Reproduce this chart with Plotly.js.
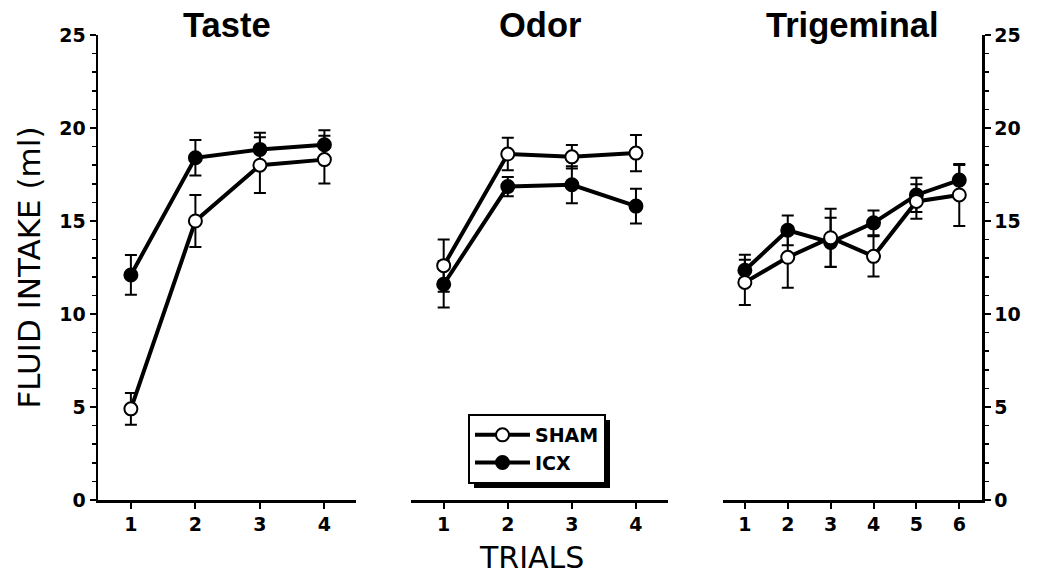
<!DOCTYPE html>
<html>
<head>
<meta charset="utf-8">
<script src="https://cdn.plot.ly/plotly-3.0.1.min.js"></script>
<style>html,body{margin:0;padding:0;background:#fff;}#chart{width:1050px;height:581px;}</style>
</head>
<body>
<div id="chart"></div>
<script>
// ---- data ----
const panelTitles = ["Taste", "Odor", "Trigeminal"];
const seriesNames = ["SHAM", "ICX"];

const tasteTrials = [1, 2, 3, 4];
const tasteSham = [4.9, 15.0, 18.0, 18.3];
const tasteShamErr = [0.85, 1.4, 1.5, 1.28];
const tasteIcx = [12.1, 18.4, 18.85, 19.1];
const tasteIcxErr = [1.07, 0.95, 0.9, 0.78];

const odorTrials = [1, 2, 3, 4];
const odorSham = [12.6, 18.6, 18.45, 18.65];
const odorShamErr = [1.4, 0.87, 0.63, 0.97];
const odorIcx = [11.6, 16.85, 16.95, 15.8];
const odorIcxErr = [1.25, 0.52, 1.0, 0.93];

const trigTrials = [1, 2, 3, 4, 5, 6];
const trigSham = [11.7, 13.05, 14.1, 13.1, 16.05, 16.4];
const trigShamErr = [1.22, 1.64, 1.56, 1.08, 0.93, 1.67];
const trigIcx = [12.35, 14.5, 13.85, 14.9, 16.4, 17.2];
const trigIcxErr = [0.84, 0.8, 1.32, 0.66, 0.92, 0.81];

const yTickVals = [0, 5, 10, 15, 20, 25];

// ---- styling ----
const FONT = "Liberation Sans, Arial, Helvetica, sans-serif";
const WIDE = "DejaVu Sans, Liberation Sans, Arial, sans-serif";
const W = 1050, H = 581, T = 35, B = 81;
const plotH = H - T - B;
function px2x(p) { return p / W; }
function px2y(p) { return (H - B - p) / plotH; }

function makeTrace(x, y, err, name, open, xa, ya, showlegend) {
  return {
    type: "scatter", mode: "lines+markers",
    x: x, y: y, name: name, xaxis: xa, yaxis: ya,
    showlegend: showlegend, legendgroup: name,
    legendrank: open ? 1 : 2,
    line: {color: "black", width: 4},
    marker: {symbol: "circle", size: 13, color: open ? "white" : "black",
             line: {color: "black", width: 2}},
    error_y: {type: "data", array: err, visible: true, color: "black",
              thickness: 2, width: 6},
    cliponaxis: false
  };
}

const data = [
  makeTrace(tasteTrials, tasteIcx, tasteIcxErr, seriesNames[1], false, "x", "y", true),
  makeTrace(tasteTrials, tasteSham, tasteShamErr, seriesNames[0], true, "x", "y", true),
  makeTrace(odorTrials, odorIcx, odorIcxErr, seriesNames[1], false, "x2", "y2", false),
  makeTrace(odorTrials, odorSham, odorShamErr, seriesNames[0], true, "x2", "y2", false),
  makeTrace(trigTrials, trigIcx, trigIcxErr, seriesNames[1], false, "x3", "y3", false),
  makeTrace(trigTrials, trigSham, trigShamErr, seriesNames[0], true, "x3", "y3", false)
];

const doms = [[98, 356], [411, 668], [723, 982]];
const ranges = [[0.49, 4.49], [0.49, 4.5], [0.49, 6.53]];
const tickSets = [tasteTrials, odorTrials, trigTrials];

const tickFont = {family: WIDE, size: 19, color: "black", weight: "bold"};

function xAxis(i) {
  return {
    domain: [px2x(doms[i][0]), px2x(doms[i][1])],
    range: ranges[i], anchor: i === 0 ? "y" : "y" + (i + 1),
    showline: true, linecolor: "black", linewidth: 2.5,
    ticks: "outside", ticklen: 6, tickwidth: 2, tickcolor: "black",
    tickvals: tickSets[i], ticktext: tickSets[i].map(String),
    tickfont: tickFont, showgrid: false, zeroline: false, fixedrange: true
  };
}
function xAxisInner(i) {
  const a = xAxis(i);
  a.ticks = "inside"; a.showticklabels = false; a.showline = false;
  a.overlaying = i === 0 ? "x" : "x" + (i + 1);
  return a;
}
function yAxis(i, show, side) {
  const a = {
    domain: [0, 1], range: [0, 25], anchor: i === 0 ? "x" : "x" + (i + 1),
    showgrid: false, zeroline: false, fixedrange: true
  };
  if (show) {
    Object.assign(a, {
      side: side, showline: true, linecolor: "black", linewidth: 2.5,
      ticks: "outside", ticklen: 6, tickwidth: 2, tickcolor: "black",
      tickvals: yTickVals, tickfont: tickFont,
      minor: {dtick: 1, tick0: 0, ticks: "outside", ticklen: 4, tickwidth: 1.5, tickcolor: "black"}
    });
  } else {
    Object.assign(a, {visible: false});
  }
  return a;
}

const layout = {
  width: W, height: H,
  margin: {l: 0, r: 0, t: T, b: B, pad: 0},
  paper_bgcolor: "white", plot_bgcolor: "rgba(0,0,0,0)",
  font: {family: FONT, color: "black"},
  showlegend: true,
  legend: {
    x: px2x(468), y: px2y(414), xanchor: "left", yanchor: "top",
    bgcolor: "white", bordercolor: "black", borderwidth: 2,
    font: {family: WIDE, size: 19, color: "black", weight: "bold"},
    itemwidth: 55, tracegroupgap: 0, traceorder: "normal"
  },
  xaxis: xAxis(0), xaxis2: xAxis(1), xaxis3: xAxis(2),
  xaxis4: xAxisInner(0), xaxis5: xAxisInner(1), xaxis6: xAxisInner(2),
  yaxis: Object.assign(yAxis(0, true, "left"), {
    title: {text: "FLUID INTAKE (ml)", font: {family: WIDE, size: 31, color: "black"}, standoff: 10}
  }),
  yaxis2: yAxis(1, false),
  yaxis3: yAxis(2, true, "right"),
  yaxis4: Object.assign(yAxis(0, true, "left"), {overlaying: "y", ticks: "inside", showticklabels: false, showline: false, minor: {ticks: ""}}),
  yaxis5: Object.assign(yAxis(2, true, "right"), {overlaying: "y3", anchor: "x3", ticks: "inside", showticklabels: false, showline: false, minor: {ticks: ""}}),
  annotations: [
    {text: panelTitles[0], x: px2x((doms[0][0] + doms[0][1]) / 2), y: px2y(25)},
    {text: panelTitles[1], x: px2x((doms[1][0] + doms[1][1]) / 2), y: px2y(25)},
    {text: panelTitles[2], x: px2x((doms[2][0] + doms[2][1]) / 2), y: px2y(25)}
  ].map(a => Object.assign(a, {xref: "paper", yref: "paper", showarrow: false,
      xanchor: "center", yanchor: "middle",
      font: {family: FONT, size: 34.5, color: "black", weight: "bold"}})).concat([
    {text: "TRIALS", x: px2x(531), y: px2y(557), xref: "paper", yref: "paper",
     showarrow: false, xanchor: "center", yanchor: "middle",
     font: {family: WIDE, size: 30, color: "black"}}
  ])
};

Plotly.newPlot("chart", data, layout, {displayModeBar: false, staticPlot: true}).then(gd => {
  // drop shadow behind the legend box, placed from the rendered legend's box
  const bg = gd.querySelector(".legend .bg");
  if (!bg) return;
  const r = bg.getBoundingClientRect();
  const c = gd.getBoundingClientRect();
  const x0 = r.left - c.left + 5, x1 = r.right - c.left + 5;
  const y0 = r.top - c.top + 5, y1 = r.bottom - c.top + 5;
  return Plotly.relayout(gd, {shapes: [{
    type: "rect", xref: "paper", yref: "paper", layer: "below",
    x0: px2x(x0), x1: px2x(x1), y0: px2y(y1), y1: px2y(y0),
    fillcolor: "black", line: {width: 0}
  }]});
});
</script>
</body>
</html>
